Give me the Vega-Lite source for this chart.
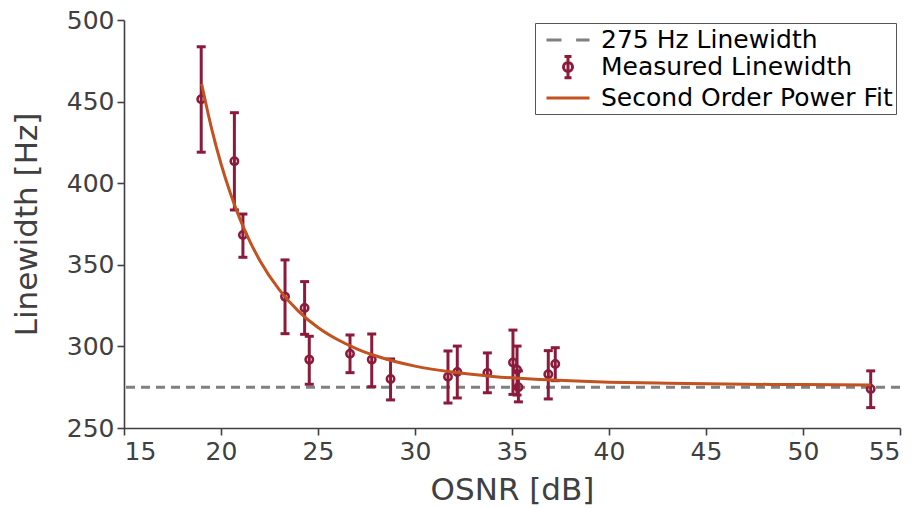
{
  "$schema": "https://vega.github.io/schema/vega-lite/v6.json",
  "width": 776,
  "height": 408,
  "autosize": {"type": "none"},
  "padding": {"left": 124, "top": 20, "right": 21, "bottom": 80},
  "config": {
    "font": "DejaVu Sans",
    "view": {"stroke": null},
    "axis": {
      "grid": false,
      "domainColor": "#404040",
      "domainWidth": 1.6,
      "tickColor": "#404040",
      "tickWidth": 1.6,
      "tickSize": 7,
      "labelColor": "#404040",
      "labelFontSize": 25,
      "labelFont": "DejaVu Sans",
      "titleColor": "#404040",
      "titleFontSize": 31,
      "titleFontWeight": "normal",
      "titleFont": "DejaVu Sans"
    }
  },
  "datasets": {
    "measured": [
      {"x": 18.98, "y": 451.5, "lo": 419.0, "hi": 483.6},
      {"x": 20.69, "y": 413.4, "lo": 383.6, "hi": 443.2},
      {"x": 21.13, "y": 368.3, "lo": 354.6, "hi": 381.1},
      {"x": 23.30, "y": 330.5, "lo": 307.8, "hi": 353.0},
      {"x": 24.31, "y": 323.5, "lo": 307.4, "hi": 339.7},
      {"x": 24.55, "y": 291.9, "lo": 276.8, "hi": 306.2},
      {"x": 26.65, "y": 295.5, "lo": 283.9, "hi": 307.0},
      {"x": 27.77, "y": 291.9, "lo": 275.3, "hi": 307.6},
      {"x": 28.74, "y": 280.0, "lo": 267.2, "hi": 292.3},
      {"x": 31.70, "y": 281.4, "lo": 265.3, "hi": 297.2},
      {"x": 32.18, "y": 284.3, "lo": 268.4, "hi": 300.2},
      {"x": 33.73, "y": 283.8, "lo": 271.6, "hi": 296.0},
      {"x": 35.05, "y": 290.2, "lo": 270.6, "hi": 310.0},
      {"x": 35.26, "y": 285.7, "lo": 270.2, "hi": 300.2},
      {"x": 35.33, "y": 275.0, "lo": 266.0, "hi": 285.0},
      {"x": 36.87, "y": 282.9, "lo": 267.8, "hi": 297.4},
      {"x": 37.23, "y": 289.2, "lo": 279.0, "hi": 299.2},
      {"x": 53.49, "y": 273.9, "lo": 262.5, "hi": 285.0}
    ],
    "fit": [
      {"x": 19.0, "y": 460.9},
      {"x": 19.5, "y": 434.2},
      {"x": 20.0, "y": 411.9},
      {"x": 20.5, "y": 393.2},
      {"x": 21.0, "y": 377.4},
      {"x": 21.5, "y": 364.1},
      {"x": 22.0, "y": 352.7},
      {"x": 23.0, "y": 334.8},
      {"x": 24.0, "y": 321.5},
      {"x": 25.0, "y": 311.6},
      {"x": 26.0, "y": 304.2},
      {"x": 27.0, "y": 298.5},
      {"x": 28.0, "y": 294.1},
      {"x": 30.0, "y": 287.9},
      {"x": 32.0, "y": 284.1},
      {"x": 34.0, "y": 281.6},
      {"x": 36.0, "y": 280.0},
      {"x": 38.0, "y": 278.9},
      {"x": 40.0, "y": 278.1},
      {"x": 43.0, "y": 277.4},
      {"x": 46.0, "y": 276.9},
      {"x": 50.0, "y": 276.6},
      {"x": 53.5, "y": 276.4}
    ],
    "ref": [{"ref": 275}]
  },
  "layer": [
    {
      "data": {"name": "ref"},
      "mark": {"type": "rule", "strokeDash": [9, 6], "strokeWidth": 3},
      "encoding": {
        "y": {
          "field": "ref",
          "type": "quantitative",
          "title": "Linewidth [Hz]",
          "scale": {"domain": [250, 500], "nice": false, "zero": false},
          "axis": {"title": "Linewidth [Hz]", "values": [250, 300, 350, 400, 450, 500], "labelPadding": 3, "titlePadding": 23}
        },
        "color": {
          "datum": "275 Hz Linewidth",
          "type": "nominal",
          "scale": {
            "domain": ["275 Hz Linewidth", "Measured Linewidth", "Second Order Power Fit"],
            "range": ["#808080", "#8B1A3B", "#C2521F"]
          },
          "legend": {
            "orient": "none",
            "legendX": 411,
            "legendY": 3,
            "title": null,
            "symbolSize": 625,
            "symbolStrokeWidth": 3,
            "symbolOpacity": 1,
            "symbolFillColor": "transparent",
            "labelFontSize": 25,
            "labelColor": "#000000",
            "labelFont": "DejaVu Sans",
            "labelLimit": 0,
            "strokeColor": "#555555",
            "fillColor": "white",
            "padding": 3,
            "symbolOffset": 16,
            "labelOffset": 19,
            "rowPadding": -10,
            "encode": {
              "symbols": {
                "update": {
                  "shape": {"signal": "datum.value === '275 Hz Linewidth' ? 'M-1.72,0H-0.52M0.65,0H1.72' : datum.value === 'Measured Linewidth' ? 'M0,-0.85V0.85M-0.28,-0.85H0.28M-0.28,0.85H0.28M0.36,0A0.36,0.36 0 1 1 -0.36,0A0.36,0.36 0 1 1 0.36,0' : 'M-1.72,0H1.72'"},
                  "fill": {"value": "transparent"},
                  "fillOpacity": {"value": 0}
                }
              }
            }
          }
        }
      }
    },
    {
      "data": {"name": "measured"},
      "mark": {"type": "errorbar", "ticks": {"opacity": 1}, "size": 9, "thickness": 3},
      "encoding": {
        "x": {
          "field": "x",
          "type": "quantitative",
          "scale": {"domain": [15, 55], "nice": false, "zero": false},
          "axis": {"title": "OSNR [dB]", "values": [15, 20, 25, 30, 35, 40, 45, 50, 55], "labelPadding": 4, "titlePadding": 11}
        },
        "y": {"field": "lo", "type": "quantitative", "title": "Linewidth [Hz]"},
        "y2": {"field": "hi"},
        "color": {"datum": "Measured Linewidth", "type": "nominal"}
      }
    },
    {
      "data": {"name": "measured"},
      "mark": {"type": "point", "filled": false, "size": 55, "strokeWidth": 2.5, "opacity": 1},
      "encoding": {
        "x": {"field": "x", "type": "quantitative"},
        "y": {"field": "y", "type": "quantitative", "title": "Linewidth [Hz]"},
        "color": {"datum": "Measured Linewidth", "type": "nominal"}
      }
    },
    {
      "data": {"name": "fit"},
      "mark": {"type": "line", "strokeWidth": 3, "interpolate": "monotone"},
      "encoding": {
        "x": {"field": "x", "type": "quantitative"},
        "y": {"field": "y", "type": "quantitative", "title": "Linewidth [Hz]"},
        "color": {"datum": "Second Order Power Fit", "type": "nominal"}
      }
    }
  ]
}
